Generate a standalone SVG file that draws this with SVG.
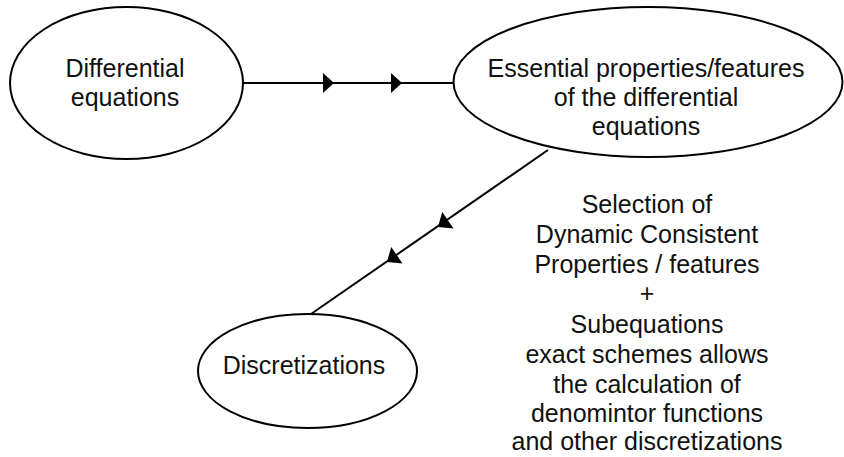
<svg xmlns="http://www.w3.org/2000/svg" width="844" height="457" viewBox="0 0 844 457">
<defs>
<style>
.node{fill:#fff;stroke:#000;stroke-width:2}
.edge{stroke:#000;stroke-width:2;fill:none}
.arr{fill:#000;stroke:none}
text{font-family:"Liberation Sans",Arial,sans-serif;font-size:25px;fill:#111;text-anchor:middle}
</style>
</defs>
<rect width="844" height="457" fill="#fff"/>
<g id="connectors">
<line class="edge" x1="243" y1="83" x2="453" y2="83"/>
<polygon class="arr" points="323,73 334,83 323,93"/>
<polygon class="arr" points="391,73 402,83 391,93"/>
<line class="edge" x1="548" y1="150" x2="311" y2="314"/>
<g transform="translate(438,227) rotate(145.5)"><polygon class="arr" points="0,0 -12,-10 -12,10"/></g>
<g transform="translate(387,262) rotate(145.5)"><polygon class="arr" points="0,0 -12,-10 -12,10"/></g>
</g>
<g id="node-differential">
<ellipse class="node" cx="126.5" cy="83" rx="116.5" ry="76"/>
<text x="125" y="77">Differential</text>
<text x="125" y="106">equations</text>
</g>
<g id="node-essential">
<ellipse class="node" cx="648" cy="82" rx="194.5" ry="75"/>
<text x="646" y="77">Essential properties/features</text>
<text x="646" y="106">of the differential</text>
<text x="646" y="135">equations</text>
</g>
<g id="node-discretizations">
<ellipse class="node" cx="307.5" cy="371" rx="109.5" ry="57"/>
<text x="304" y="374">Discretizations</text>
</g>
<g id="label">
<text x="647" y="213">Selection of</text>
<text x="647" y="243">Dynamic Consistent</text>
<text x="647" y="273">Properties / features</text>
<text x="647" y="302">+</text>
<text x="647" y="333">Subequations</text>
<text x="647" y="363">exact schemes allows</text>
<text x="647" y="393">the calculation of</text>
<text x="647" y="422">denomintor functions</text>
<text x="647" y="450">and other discretizations</text>
</g>
</svg>
